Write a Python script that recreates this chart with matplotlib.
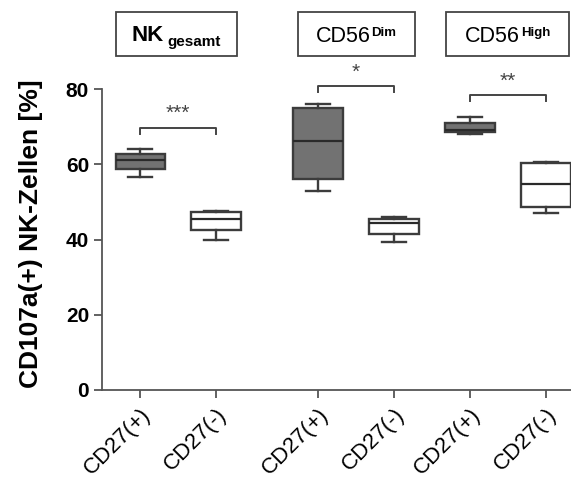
import matplotlib
matplotlib.use("Agg")
import matplotlib.pyplot as plt
from matplotlib.patches import Rectangle

plt.rcParams["font.family"] = ["Liberation Sans", "DejaVu Sans"]

# box statistics per group: whisker low, Q1, median, Q3, whisker high
labels = ["CD27(+)", "CD27(-)", "CD27(+)", "CD27(-)", "CD27(+)", "CD27(-)"]
whislo = [56.6, 39.9, 52.8, 39.3, 68.2, 47.1]
q1 = [58.7, 42.5, 56.0, 41.6, 68.7, 48.6]
med = [61.1, 45.6, 66.1, 44.4, 69.2, 54.7]
q3 = [62.7, 47.3, 74.9, 45.5, 71.1, 60.3]
whishi = [64.0, 47.5, 76.0, 45.9, 72.7, 60.5]

# header text: main part and its sub/superscript
panel_main = ["NK", "CD56", "CD56"]
panel_small = ["gesamt", "Dim", "High"]
sig_labels = ["***", "*", "**"]
sig_heights = [69.8, 80.8, 78.4]

positions = [1, 2, 3.34, 4.34, 5.34, 6.34]
fills = ["#727272", "white"] * 3
edge = "#3c3c3c"

fig = plt.figure(figsize=(5.71, 4.82), dpi=100)
ax = fig.add_axes([0.179, 0.191, 0.821, 0.624])

stats = [dict(whislo=a, q1=b, med=c, q3=d, whishi=e)
         for a, b, c, d, e in zip(whislo, q1, med, q3, whishi)]
bp = ax.bxp(stats, positions=positions, widths=0.65, showfliers=False,
            patch_artist=True, capwidths=0.32,
            boxprops=dict(edgecolor=edge, linewidth=1.7),
            medianprops=dict(color="#2a2a2a", linewidth=1.6),
            whiskerprops=dict(color=edge, linewidth=1.7),
            capprops=dict(color=edge, linewidth=1.7))
for patch, fc in zip(bp["boxes"], fills):
    patch.set_facecolor(fc)

# significance brackets between paired groups
for i, (txt, h) in enumerate(zip(sig_labels, sig_heights)):
    x0, x1 = positions[2 * i], positions[2 * i + 1]
    ax.plot([x0, x0, x1, x1], [h - 1.6, h, h, h - 1.6], color="#444444",
            lw=1.4, clip_on=False)
    ax.text((x0 + x1) / 2, h + 2.3, txt, ha="center", va="baseline",
            fontsize=15, color="#444444", clip_on=False)

# header boxes above each group
header_x = [(0.68, 2.27), (3.08, 4.62), (5.03, 6.64)]
for (xa, xb) in header_x:
    ax.add_patch(Rectangle((xa, 88.9), xb - xa, 11.6, fill=False,
                           edgecolor="#444444", lw=1.3, clip_on=False))

ax.text(1.10, 92.9, panel_main[0], ha="center", va="baseline",
        fontsize=16, fontweight="bold", clip_on=False)
ax.text(1.36, 91.4, panel_small[0], ha="left", va="baseline",
        fontsize=11, fontweight="bold", clip_on=False)
for xs, main, small in [(4.03, panel_main[1], panel_small[1]),
                        (6.0, panel_main[2], panel_small[2])]:
    ax.text(xs, 92.6, main, ha="right", va="baseline", fontsize=15.5,
            clip_on=False)
    ax.text(xs + 0.01, 94.2, small, ha="left", va="baseline", fontsize=9.5,
            fontweight="bold", clip_on=False)

ax.set_xlim(0.5, 6.67)
ax.set_ylim(0, 80)
ax.set_yticks([0, 20, 40, 60, 80])
ax.set_yticklabels(["0", "20", "40", "60", "80"], fontsize=15,
                   fontweight="bold")
ax.set_xticks(positions)
ax.set_xticklabels(labels, rotation=45, ha="right", rotation_mode="anchor",
                   fontsize=16)
ax.set_ylabel("CD107a(+) NK-Zellen [%]", fontsize=19, fontweight="bold")
ax.yaxis.set_label_coords(-0.127, 0.52)

for side in ["top", "right"]:
    ax.spines[side].set_visible(False)
for side in ["left", "bottom"]:
    ax.spines[side].set_color("#555555")
    ax.spines[side].set_linewidth(1.3)
ax.tick_params(colors="#555555", width=1.3, length=6, labelcolor="black")
ax.tick_params(axis="x", pad=4)

fig.savefig("out.png", dpi=100)
